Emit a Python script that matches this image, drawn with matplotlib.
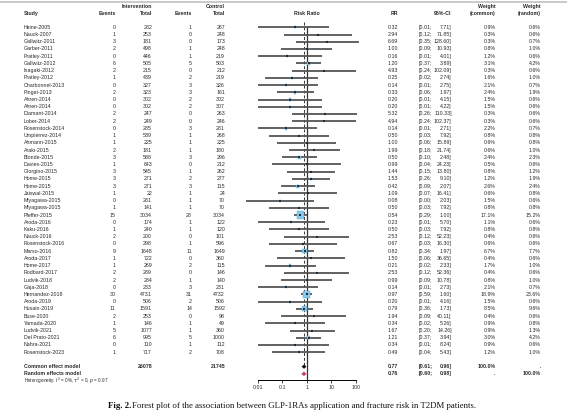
import numpy as np
import matplotlib.pyplot as plt

plt.rcParams['font.family'] = ['Liberation Sans', 'DejaVu Sans']
plt.rcParams['mathtext.fontset'] = 'dejavusans'

studies = ['Heine-2005', 'Nauck-2007', 'Gallwitz-2011', 'Garber-2011', 'Pratley-2011',
           'Gallwitz-2012', 'Inagaki-2012', 'Pratley-2012', 'Charbonnel-2013', 'Pinget-2013',
           'Ahren-2014', 'Ahren-2014', 'Diamant-2014', 'Lober-2014', 'Rosenstock-2014',
           'Umpierrez-2014', 'Ahmann-2015', 'Araki-2015', 'Blonde-2015', 'Davies-2015',
           'Giorgino-2015', 'Home-2015', 'Home-2015', 'Jaiswal-2015', 'Miyagawa-2015',
           'Miyagawa-2015', 'Pfeffer-2015', 'Aroda-2016', 'Kaku-2016', 'Nauck-2016',
           'Rosenstock-2016', 'Marso-2016', 'Aroda-2017', 'Home-2017', 'Rodbard-2017',
           'Ludvik-2018', 'Gaja-2018', 'Hernandez-2018', 'Aroda-2019', 'Husain-2019',
           'Buse-2020', 'Yamada-2020', 'Ludvik-2021', 'Del Prato-2021', 'Nahra-2021',
           'Rosenstock-2023']
ev_int = [0, 1, 3, 2, 0, 6, 2, 1, 0, 2, 0, 0, 2, 2, 0, 1, 1, 2, 3, 1, 3, 3, 3, 1, 0,
          1, 15, 0, 1, 2, 0, 9, 1, 1, 2, 2, 0, 30, 0, 11, 2, 1, 5, 6, 0, 1]
n_int = [282, 253, 181, 498, 446, 505, 215, 439, 327, 323, 302, 302, 247, 249, 285,
         539, 225, 181, 588, 643, 545, 271, 271, 22, 281, 141, 3034, 174, 240, 200,
         298, 1648, 722, 269, 289, 284, 233, 4731, 506, 1591, 253, 146, 1077, 995, 110, 717]
ev_ctl = [1, 0, 0, 1, 1, 5, 0, 2, 3, 3, 2, 2, 0, 0, 3, 1, 1, 1, 3, 0, 1, 2, 3, 1, 1,
          1, 28, 1, 1, 0, 1, 11, 0, 2, 0, 1, 3, 31, 2, 14, 0, 1, 1, 5, 1, 2]
n_ctl = [267, 248, 173, 248, 219, 503, 212, 219, 326, 161, 302, 307, 263, 246, 281,
         268, 225, 180, 296, 212, 262, 277, 115, 24, 70, 70, 3034, 122, 120, 101,
         596, 1649, 360, 115, 146, 140, 231, 4732, 506, 1592, 98, 49, 360, 1000, 112, 708]
rr = [0.32, 2.94, 6.69, 1.00, 0.16, 1.20, 4.93, 0.25, 0.14, 0.33, 0.20, 0.20, 5.32, 4.94,
      0.14, 0.50, 1.00, 1.99, 0.50, 0.99, 1.44, 1.53, 0.42, 1.09, 0.08, 0.50, 0.54, 0.23,
      0.50, 2.53, 0.67, 0.82, 1.50, 0.21, 2.53, 0.99, 0.14, 0.97, 0.20, 0.79, 1.94, 0.34,
      1.67, 1.21, 0.34, 0.49]
lo = [0.01, 0.12, 0.35, 0.09, 0.01, 0.37, 0.24, 0.02, 0.01, 0.06, 0.01, 0.01, 0.26, 0.24,
      0.01, 0.03, 0.06, 0.18, 0.10, 0.04, 0.15, 0.26, 0.09, 0.07, 0.0035, 0.03, 0.29, 0.01,
      0.03, 0.12, 0.03, 0.34, 0.06, 0.02, 0.12, 0.09, 0.01, 0.59, 0.01, 0.36, 0.09, 0.02,
      0.20, 0.37, 0.01, 0.04]
hi = [7.71, 71.85, 128.60, 10.93, 4.01, 3.89, 102.09, 2.74, 2.75, 1.97, 4.15, 4.22, 110.33,
      102.37, 2.71, 7.92, 15.89, 21.74, 2.48, 24.23, 13.80, 9.10, 2.07, 16.41, 2.03, 7.92,
      1.00, 5.70, 7.92, 52.23, 16.30, 1.97, 36.65, 2.33, 52.36, 10.78, 2.73, 1.60, 4.16,
      1.73, 40.11, 5.26, 14.26, 3.94, 8.24, 5.43]
w_common = [0.9, 0.3, 0.3, 0.8, 1.2, 3.1, 0.3, 1.6, 2.1, 2.4, 1.5, 1.5, 0.3, 0.3, 2.2, 0.8,
            0.6, 0.6, 2.4, 0.5, 0.8, 1.2, 2.6, 0.6, 1.5, 0.8, 17.1, 1.1, 0.8, 0.4, 0.6, 6.7,
            0.4, 1.7, 0.4, 0.8, 2.1, 18.9, 1.5, 8.5, 0.4, 0.9, 0.9, 3.0, 0.9, 1.2]
w_random = [0.6, 0.6, 0.7, 1.0, 0.6, 4.2, 0.6, 1.0, 0.7, 1.9, 0.6, 0.6, 0.6, 0.6, 0.7, 0.8,
            0.8, 1.0, 2.3, 0.6, 1.2, 1.9, 2.4, 0.8, 0.6, 0.8, 15.2, 0.6, 0.8, 0.6, 0.6, 7.7,
            0.6, 1.0, 0.6, 1.0, 0.7, 23.6, 0.6, 9.6, 0.6, 0.8, 1.3, 4.2, 0.6, 1.0]

tot_int, tot_ctl = 26078, 21745
common = (0.77, 0.61, 0.96)
random_ = (0.76, 0.60, 0.98)

W, H = 567, 413
Y0, DY = 27.3, 7.22          # pixel y of first study row, row pitch
ROW_COMMON, ROW_RANDOM, ROW_HET = 48, 49, 50
txt = '#2a2a2a'
fs = 3.8

fig = plt.figure(figsize=(W / 100, H / 100), dpi=100)

# text layer, x in pixels, y in row units
at = fig.add_axes([0, 0, 1, 1])
at.set_xlim(0, W)
at.set_ylim(1 + (H - Y0) / DY, 1 - Y0 / DY)
at.axis('off')

def px_row(py):
    return 1 + (py - Y0) / DY

at.axhline(px_row(2), color='#c0c0c0', lw=1.2)

X_STUDY, X_EI, X_NI, X_EC, X_NC = 24, 115.5, 152, 192, 225
X_RR, X_CIL, X_CIR, X_WC, X_WR = 398, 418.5, 451.7, 495.5, 541

h1, h2 = px_row(6.5), px_row(13.7)
hb = dict(fontsize=fs, fontweight='bold', color=txt, va='center')
at.text(X_NI, h1, 'Intervention', ha='right', **hb)
at.text(X_NC, h1, 'Control', ha='right', **hb)
at.text(X_WC, h1, 'Weight', ha='right', **hb)
at.text(X_WR, h1, 'Weight', ha='right', **hb)
at.text(X_STUDY, h2, 'Study', ha='left', **hb)
at.text(X_EI, h2, 'Events', ha='right', **hb)
at.text(X_NI, h2, 'Total', ha='right', **hb)
at.text(X_EC, h2, 'Events', ha='right', **hb)
at.text(X_NC, h2, 'Total', ha='right', **hb)
at.text(307, h2, 'Risk Ratio', ha='center', **hb)
at.text(X_RR, h2, 'RR', ha='right', **hb)
at.text(X_CIR, h2, '95%-CI', ha='right', **hb)
at.text(X_WC, h2, '(common)', ha='right', **hb)
at.text(X_WR, h2, '(random)', ha='right', **hb)

kw = dict(fontsize=fs, color=txt, va='center')
for i, s in enumerate(studies):
    r = i + 1
    at.text(X_STUDY, r, s, ha='left', **kw)
    at.text(X_EI, r, str(ev_int[i]), ha='right', **kw)
    at.text(X_NI, r, str(n_int[i]), ha='right', **kw)
    at.text(X_EC, r, str(ev_ctl[i]), ha='right', **kw)
    at.text(X_NC, r, str(n_ctl[i]), ha='right', **kw)
    at.text(X_RR, r, '%.2f' % rr[i], ha='right', **kw)
    at.text(X_CIL, r, '[%.2f;' % lo[i], ha='left', **kw)
    at.text(X_CIR, r, '%.2f]' % hi[i], ha='right', **kw)
    at.text(X_WC, r, '%.1f%%' % w_common[i], ha='right', **kw)
    at.text(X_WR, r, '%.1f%%' % w_random[i], ha='right', **kw)

kb = dict(fontsize=fs, color=txt, va='center', fontweight='bold')
for r, lab, est, wc, wr in [(ROW_COMMON, 'Common effect model', common, '100.0%', '.'),
                            (ROW_RANDOM, 'Random effects model', random_, '.', '100.0%')]:
    at.text(X_STUDY, r, lab, ha='left', **kb)
    at.text(X_RR, r, '%.2f' % est[0], ha='right', **kb)
    at.text(X_CIL, r, '[%.2f;' % est[1], ha='left', **kb)
    at.text(X_CIR, r, '%.2f]' % est[2], ha='right', **kb)
    at.text(X_WC, r, wc, ha='right', **kb)
    at.text(X_WR, r, wr, ha='right', **kb)
at.text(X_NI, ROW_COMMON, str(tot_int), ha='right', **kb)
at.text(X_NC, ROW_COMMON, str(tot_ctl), ha='right', **kb)
at.text(X_STUDY, ROW_HET, r'Heterogeneity: $I^2$ = 0%, $\tau^2$ = 0, $p$ = 0.97',
        ha='left', fontsize=3.3, color=txt, va='center')

cap_y = px_row(406)
at.text(108, cap_y, 'Fig. 2.', ha='left', va='center', fontsize=6.3,
        fontweight='bold', family='Liberation Serif', color='#111111')
at.text(132.5, cap_y, 'Forest plot of the association between GLP-1RAs application '
        'and fracture risk in T2DM patients.', ha='left', va='center', fontsize=6.3,
        family='Liberation Serif', color='#111111')

# forest panel, log scale
def px_x(v):
    return 306.85 + 24.575 * np.log10(v)

xl, xr = 0.002, 200
y_top, y_bot = 16.5, 380
af = fig.add_axes([px_x(xl) / W, 1 - y_bot / H, (px_x(xr) - px_x(xl)) / W, (y_bot - y_top) / H])
af.patch.set_alpha(0)
af.set_xscale('log')
af.set_xlim(xl, xr)
af.set_ylim(px_row(y_bot), px_row(y_top))
for sp in ['top', 'left', 'right']:
    af.spines[sp].set_visible(False)
af.spines['bottom'].set_bounds(0.01, 100)
af.spines['bottom'].set_linewidth(0.7)
af.set_xticks([0.01, 0.1, 1, 10, 100])
af.set_xticklabels(['0.01', '0.1', '1', '10', '100'])
af.minorticks_off()
af.tick_params(axis='x', length=2, width=0.6, labelsize=fs, pad=1.5, colors=txt)
af.set_yticks([])

rows = np.arange(1, len(studies) + 1)
rr_a, lo_a, hi_a = np.array(rr), np.array(lo), np.array(hi)

af.axvline(1, ymin=0, ymax=0.97, color='#333333', lw=0.9, zorder=1)
af.plot([common[0]] * 2, [0.3, ROW_COMMON], color='#333333', lw=0.7,
        ls=(0, (3, 2)), zorder=1)
af.errorbar(rr_a, rows, xerr=[rr_a - lo_a, hi_a - rr_a], fmt='none',
            ecolor='#555555', elinewidth=1.3, capsize=0, zorder=2)
side = np.maximum(1.75 * np.sqrt(np.array(w_common)), 1.2) * 0.72
af.scatter(rr_a, rows, s=side ** 2, marker='s', facecolor='#86c9ea',
           edgecolor='#5aa6cc', linewidths=0.3, zorder=3)
af.scatter(rr_a, rows, s=1.5, marker='s', color='#1c2a3a', linewidths=0, zorder=4)

h = 0.3
for r, est, col in [(ROW_COMMON, common, '#111111'), (ROW_RANDOM, random_, '#d0336e')]:
    af.fill([est[1], est[0], est[2], est[0]], [r, r - h, r, r + h], color=col,
            lw=0, zorder=3)

fig.savefig('out.png', dpi=100)
